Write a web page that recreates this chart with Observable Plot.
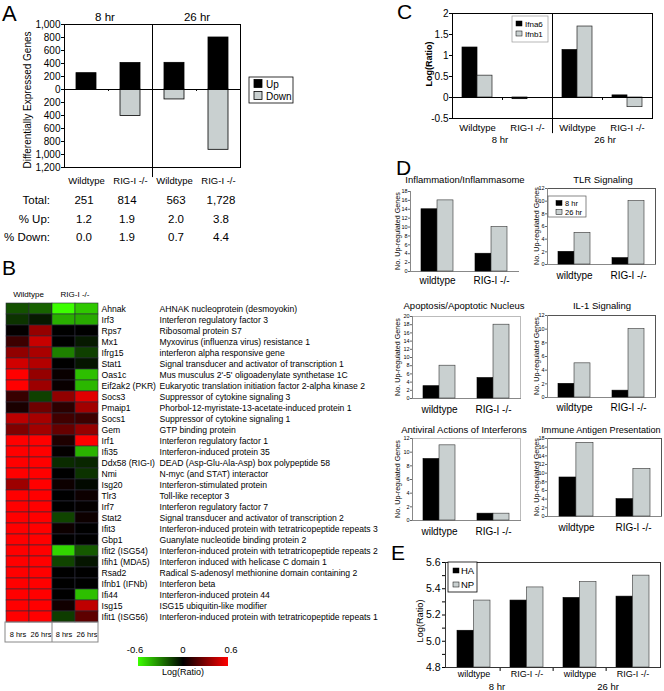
<!DOCTYPE html>
<html>
<head>
<meta charset="utf-8">
<script src="https://cdn.jsdelivr.net/npm/d3@7"></script>
<script src="https://cdn.jsdelivr.net/npm/@observablehq/plot@0.6"></script>
<style>
  html, body { margin: 0; padding: 0; background: white; }
  #fig { position: relative; width: 664px; height: 691px; overflow: hidden; background: white;
         font-family: 'Liberation Sans', Arial, Helvetica, sans-serif; }
  #fig > * { position: absolute; }
</style>
</head>
<body>
<div id="fig"></div>
<script>
// ---------------- DATA ----------------
// Panel A
const aKeys = ["wt8", "rig8", "wt26", "rig26"];
const aLabels = ["Wildtype", "RIG-I -/-", "Wildtype", "RIG-I -/-"];
const aGroups = ["8 hr", "26 hr"];
const aUp = [251, 407, 410, 800];
const aDown = [0, 407, 153, 928];
const aSeries = ["Up", "Down"];
const tableRowLabels = ["Total:", "% Up:", "% Down:"];
const tableTotal = ["251", "814", "563", "1,728"];
const tablePctUp = ["1.2", "1.9", "2.0", "3.8"];
const tablePctDown = ["0.0", "1.9", "0.7", "4.4"];

// Panel B
const hmGroups = ["Wildtype", "RIG-I -/-"];
const hmCols = ["wt8", "wt26", "rig8", "rig26"];
const hmColLabels = ["8 hrs", "26 hrs", "8 hrs", "26 hrs"];
const genes = ["Ahnak","Irf3","Rps7","Mx1","Ifrg15","Stat1","Oas1c","Eif2ak2 (PKR)","Socs3","Pmaip1","Socs1","Gem","Irf1","Ifi35","Ddx58 (RIG-I)","Nmi","Isg20","Tlr3","Irf7","Stat2","Ifit3","Gbp1","Ifit2 (ISG54)","Ifih1 (MDA5)","Rsad2","Ifnb1 (IFNb)","Ifi44","Isg15","Ifit1 (ISG56)"];
const geneDescriptions = ["AHNAK nucleoprotein (desmoyokin)","Interferon regulatory factor 3","Ribosomal protein S7","Myxovirus (influenza virus) resistance 1","interferon alpha responsive gene","Signal transducer and activator of transcription 1","Mus musculus 2'-5' oligoadenylate synthetase 1C","Eukaryotic translation initiation factor 2-alpha kinase 2","Suppressor of cytokine signaling 3","Phorbol-12-myristate-13-acetate-induced protein 1","Suppressor of cytokine signaling 1","GTP binding protein","Interferon regulatory factor 1","Interferon-induced protein 35","DEAD (Asp-Glu-Ala-Asp) box polypeptide 58","N-myc (and STAT) interactor","Interferon-stimulated protein","Toll-like receptor 3","Interferon regulatory factor 7","Signal transducer and activator of transcription 2","Interferon-induced protein with tetratricopeptide repeats 3","Guanylate nucleotide binding protein 2","Interferon-induced protein with tetratricopeptide repeats 2","Interferon induced with helicase C domain 1","Radical S-adenosyl methionine domain containing 2","Interferon beta","Interferon-induced protein 44","ISG15 ubiquitin-like modifier","Interferon-induced protein with tetratricopeptide repeats 1"];
const wt8   = [-0.19,-0.12,0.01,0.14,0.34,0.49,0.6,0.6,0.13,0.06,0.44,0.3,0.6,0.6,0.6,0.6,0.37,0.6,0.6,0.6,0.6,0.6,0.6,0.6,0.6,0.6,0.6,0.6,0.6];
const wt26  = [-0.23,-0.06,0.35,0.47,0.4,0.42,0.35,0.37,-0.15,0.26,0.39,0.38,0.6,0.6,0.6,0.6,0.6,0.6,0.6,0.6,0.6,0.6,0.6,0.6,0.6,0.6,0.6,0.6,0.6];
const rig8  = [-0.6,-0.41,0.0,0.0,-0.3,0.0,0.02,0.02,0.34,0.1,0.15,0.24,0.07,0.01,-0.1,0.0,0.03,0.0,0.0,-0.16,0.03,0.0,-0.5,-0.16,0.0,0.0,0.0,0.04,-0.14];
const rig26 = [-0.47,-0.4,0.0,-0.06,-0.15,-0.05,-0.45,-0.43,0.53,0.38,0.14,0.35,0.6,-0.42,-0.09,-0.12,-0.02,0.03,0.01,0.03,0.0,0.0,-0.21,-0.05,0.0,0.0,-0.45,0.45,0.22];
const colorDomain = [-0.6, 0, 0.6];
const colorTickLabels = ["-0.6", "0", "0.6"];

// Panel C
const cKeys = ["wt8", "rig8", "wt26", "rig26"];
const cLabels = ["Wildtype", "RIG-I -/-", "Wildtype", "RIG-I -/-"];
const cGroups = ["8 hr", "26 hr"];
const cSeries = ["Ifna6", "Ifnb1"];
const cIfna6 = [1.19, -0.04, 1.13, 0.05];
const cIfnb1 = [0.52, 0.0, 1.69, -0.23];
const cTicks = [-0.5, 0, 0.5, 1, 1.5, 2];

// Panel D
const dCats = ["wildtype", "RIG-I -/-"];
const dSeries = ["8 hr", "26 hr"];
const dTitles = ["Inflammation/Inflammasome", "TLR Signaling", "Apoptosis/Apoptotic Nucleus", "IL-1 Signaling", "Antiviral Actions of Interferons", "Immune Antigen Presentation"];
const inflam8 = [14, 4],   inflam26 = [16, 10];
const tlr8 = [2, 1],       tlr26 = [5, 10];
const apop8 = [3, 5],      apop26 = [8, 18];
const il1_8 = [2, 1],      il1_26 = [5, 10];
const antiviral8 = [9, 1], antiviral26 = [11, 1];
const immune8 = [9, 4],    immune26 = [17, 11];
const dMax = [18, 12, 20, 12, 12, 18];

// Panel E
const eKeys = ["wt8", "rig8", "wt26", "rig26"];
const eLabels = ["wildtype", "RIG-I -/-", "wildtype", "RIG-I -/-"];
const eGroups = ["8 hr", "26 hr"];
const eSeries = ["HA", "NP"];
const eHA = [5.08, 5.31, 5.33, 5.34];
const eNP = [5.31, 5.41, 5.45, 5.50];
const eTicks = [4.8, 5.0, 5.2, 5.4, 5.6];
const eMinorTicks = [4.9, 5.1, 5.3, 5.5];

// ---------------- STYLE ----------------
const FONT = "'Liberation Sans', Arial, Helvetica, sans-serif";
const GRAY = "#c9d0d0";
const GREEN = "#3cff00";
const baseStyle = {fontFamily: FONT, background: "transparent", overflow: "visible", color: "black"};
const fig = document.getElementById("fig");
function place(el, left, top) { el.style.left = left + "px"; el.style.top = top + "px"; fig.appendChild(el); }

// ---------------- PANEL A ----------------
{
  const rows = aKeys.map((k, i) => ({k, up: aUp[i], down: aDown[i]}));
  const fw = 176, step = fw / 4, pi = 0.55;
  const p = Plot.plot({
    width: 250, height: 190, marginLeft: 64, marginRight: 10, marginTop: 24, marginBottom: 23,
    style: {...baseStyle, fontSize: "10px"},
    x: {domain: aKeys, paddingInner: pi, paddingOuter: pi / 2, label: null},
    y: {domain: [-1200, 1000], label: null},
    marks: [
      Plot.barY(rows, {x: "k", y1: 0, y2: "up", fill: "black", stroke: "black", strokeWidth: 0.8}),
      Plot.barY(rows, {x: "k", y1: 0, y2: d => -d.down, fill: GRAY, stroke: "black", strokeWidth: 0.8}),
      Plot.ruleY([0], {stroke: "black"}),
      Plot.ruleX([aKeys[2]], {x: d => d, dx: -step / 2, y1: -1355, y2: 1000, stroke: "black"}),
      Plot.ruleX([aKeys[1], aKeys[3]], {x: d => d, dx: -step / 2, y1: 0, y2: -30, stroke: "black"}),
      Plot.frame({stroke: "black"}),
      Plot.axisY({ticks: d3.range(-1200, 1001, 200), tickFormat: d => Math.abs(d), tickSize: 3, tickPadding: 1, fontSize: 10, label: null}),
      Plot.axisX({tickSize: 0, tickPadding: 10, fontSize: 9.5, tickFormat: d => aLabels[aKeys.indexOf(d)], label: null})
    ]
  });
  place(p, 0, 0);
}

// ---------------- PANEL B ----------------
{
  const cells = [];
  const vals = {wt8, wt26, rig8, rig26};
  genes.forEach((g, i) => hmCols.forEach(c => cells.push({gene: g, col: c, v: vals[c][i]})));
  const p = Plot.plot({
    width: 360, height: 360, marginLeft: 5, marginRight: 262, marginTop: 13, marginBottom: 28,
    style: {...baseStyle, fontSize: "8.6px"},
    x: {domain: hmCols, padding: 0, label: null},
    y: {domain: genes, padding: 0, label: null, axis: null},
    color: {type: "linear", domain: colorDomain, range: [GREEN, "#000000", "#ff0000"], interpolate: "rgb", clamp: true},
    marks: [
      Plot.cell(cells, {x: "col", y: "gene", fill: "v", stroke: "#2c2c3c", strokeWidth: 0.6, inset: 0}),
      Plot.axisX({tickSize: 0, tickPadding: 9, fontSize: 7.5, tickFormat: d => hmColLabels[hmCols.indexOf(d)], label: null}),
      Plot.text(genes, {y: d => d, text: d => d, frameAnchor: "right", textAnchor: "start", dx: 3, fontSize: 8.6}),
      Plot.text(genes, {y: d => d, text: (d, i) => geneDescriptions[i], frameAnchor: "right", textAnchor: "start", dx: 61, fontSize: 8.6})
    ]
  });
  place(p, 0, 290);
}

// ---------------- PANEL C ----------------
{
  const rows = cKeys.map((k, i) => ({k, a: cIfna6[i], b: cIfnb1[i]}));
  const fw = 200, step = fw / 4, pi = 0.4, bw = step * (1 - pi);
  const p = Plot.plot({
    width: 284, height: 150, marginLeft: 72, marginRight: 12, marginTop: 13, marginBottom: 32,
    style: {...baseStyle, fontSize: "10px"},
    x: {domain: cKeys, paddingInner: pi, paddingOuter: pi / 2, label: null},
    y: {domain: [-0.5, 2], label: null},
    marks: [
      Plot.barY(rows, {x: "k", y1: 0, y2: "a", fill: "black", stroke: "black", strokeWidth: 0.7, insetRight: bw / 2}),
      Plot.barY(rows, {x: "k", y1: 0, y2: "b", fill: GRAY, stroke: "#222", strokeWidth: 0.7, insetLeft: bw / 2}),
      Plot.ruleY([0], {stroke: "black"}),
      Plot.ruleX([cKeys[2]], {x: d => d, dx: -step / 2, y1: -0.86, y2: 2, stroke: "black"}),
      Plot.ruleX([cKeys[1], cKeys[3]], {x: d => d, dx: -step / 2, y1: 0, y2: -0.07, stroke: "black"}),
      Plot.frame({stroke: "black"}),
      Plot.axisY({ticks: cTicks, tickFormat: d => String(d), tickSize: 3, tickPadding: 1, fontSize: 10, label: null}),
      Plot.axisX({tickSize: 0, tickPadding: 6, fontSize: 9.5, tickFormat: d => cLabels[cKeys.indexOf(d)], label: null})
    ]
  });
  place(p, 380, 0);
}

// ---------------- PANEL D ----------------
const dFrames = [
  {x0: 410, x1: 518, y0: 191, y1: 271, pad: 5, frame: null},
  {x0: 547, x1: 655, y0: 188, y1: 264, pad: 7, frame: "#555"},
  {x0: 412, x1: 520, y0: 316, y1: 398, pad: 7, frame: "#bbb"},
  {x0: 547, x1: 655, y0: 315, y1: 397, pad: 6, frame: "#555"},
  {x0: 412, x1: 520, y0: 438, y1: 520, pad: 7, frame: "#bbb"},
  {x0: 547, x1: 661, y0: 438, y1: 516, pad: 7, frame: "#555"}
];
const dData = [[inflam8, inflam26], [tlr8, tlr26], [apop8, apop26], [il1_8, il1_26], [antiviral8, antiviral26], [immune8, immune26]];
dData.forEach(([v8, v26], j) => {
  const f = dFrames[j];
  const step = (f.x1 - f.x0) / 2, pi = 0.407, bw = step * (1 - pi);
  const rows = dCats.map((c, i) => ({c, a: v8[i], b: v26[i]}));
  const p = Plot.plot({
    width: f.x1 - f.x0 + 18, height: f.y1 - f.y0 + 22, marginLeft: 14, marginRight: 4, marginTop: 4, marginBottom: 18,
    style: {...baseStyle, fontSize: "10px"},
    x: {domain: dCats, paddingInner: pi, paddingOuter: pi / 2, label: null},
    y: {domain: [0, dMax[j]], label: null},
    marks: [
      f.frame ? Plot.frame({stroke: f.frame}) : null,
      Plot.frame({anchor: "left", stroke: "#888"}),
      Plot.frame({anchor: "bottom", stroke: "#888"}),
      Plot.barY(rows, {x: "c", y1: 0, y2: "a", fill: "black", stroke: "black", strokeWidth: 0.6, insetRight: bw / 2}),
      Plot.barY(rows, {x: "c", y1: 0, y2: "b", fill: GRAY, stroke: "#333", strokeWidth: 0.6, insetLeft: bw / 2}),
      Plot.axisY({ticks: d3.range(0, dMax[j] + 1, 2), tickSize: 2, tickPadding: 1, fontSize: 5.5, stroke: "#666", label: null}),
      Plot.axisX({tickSize: 0, tickPadding: f.pad, fontSize: 10, label: null})
    ]
  });
  place(p, f.x0 - 14, f.y0 - 4);
});

// ---------------- PANEL E ----------------
{
  const rows = eKeys.map((k, i) => ({k, a: eHA[i], b: eNP[i]}));
  const fw = 215, step = fw / 4, pi = 0.386, bw = step * (1 - pi);
  const base = eTicks[0];
  const p = Plot.plot({
    width: 284, height: 141, marginLeft: 65, marginRight: 4, marginTop: 12, marginBottom: 24,
    style: {...baseStyle, fontSize: "10px"},
    x: {domain: eKeys, paddingInner: pi, paddingOuter: pi / 2, label: null},
    y: {domain: [4.8, 5.6], label: null},
    marks: [
      Plot.barY(rows, {x: "k", y1: base, y2: "a", fill: "black", stroke: "black", strokeWidth: 0.6, insetRight: bw / 2}),
      Plot.barY(rows, {x: "k", y1: base, y2: "b", fill: GRAY, stroke: "#333", strokeWidth: 0.6, insetLeft: bw / 2}),
      Plot.ruleX([eKeys[1], eKeys[2], eKeys[3]], {x: d => d, dx: -step / 2, y1: base, y2: base - 0.03, stroke: "black"}),
      Plot.frame({stroke: "#333"}),
      Plot.axisY({ticks: eTicks, tickFormat: d3.format(".1f"), tickSize: 3, tickPadding: 2, fontSize: 10.5, label: null}),
      Plot.axisY({ticks: eMinorTicks, tickFormat: () => "", tickSize: 3, label: null}),
      Plot.axisX({tickSize: 0, tickPadding: 3, fontSize: 9, tickFormat: d => eLabels[eKeys.indexOf(d)], label: null})
    ]
  });
  place(p, 380, 550);
}

// ---------------- OVERLAY (titles, legends, table, labels) ----------------
const ov = d3.create("svg").attr("width", 664).attr("height", 691)
  .style("left", "0px").style("top", "0px").style("pointer-events", "none")
  .attr("font-family", FONT);
function T(x, y, s, o = {}) {
  const t = ov.append("text").attr("font-size", o.size || 10)
    .attr("text-anchor", o.anchor || "middle").attr("font-weight", o.weight || "normal")
    .attr("fill", "black").text(s);
  if (o.rot) t.attr("transform", `translate(${x},${y}) rotate(-90)`);
  else t.attr("x", x).attr("y", y);
  return t;
}
function R(x, y, w, h, fill, stroke, sw = 0.8) {
  ov.append("rect").attr("x", x).attr("y", y).attr("width", w).attr("height", h)
    .attr("fill", fill).attr("stroke", stroke || "none").attr("stroke-width", sw);
}

// Panel letters
T(2, 21, "A", {size: 22, anchor: "start"});
T(2, 275, "B", {size: 21, anchor: "start"});
T(397, 19, "C", {size: 21, anchor: "start"});
T(396, 175, "D", {size: 21, anchor: "start"});
T(391, 560, "E", {size: 21, anchor: "start"});

// A
T(105, 21, aGroups[0], {size: 11.5});
T(197, 21, aGroups[1], {size: 11.5});
T(31, 100, "Differentially Expressed Genes", {size: 10, rot: true});
R(249, 77, 44, 26, "white", "black", 0.8);
R(254, 79.5, 8, 8, "black", "black");
T(266, 87.5, aSeries[0], {size: 10, anchor: "start"});
R(254, 91.5, 8, 8, GRAY, "black");
T(266, 99.5, aSeries[1], {size: 10, anchor: "start"});
// table
const tableX = [84, 127, 176, 221];
const tableY = [204, 223, 241];
[tableTotal, tablePctUp, tablePctDown].forEach((row, r) => {
  T(50, tableY[r], tableRowLabels[r], {size: 11.5, anchor: "end"});
  row.forEach((v, i) => T(tableX[i], tableY[r], v, {size: 11.5}));
});

// B
T(28.5, 297, hmGroups[0], {size: 8});
T(75, 297, hmGroups[1], {size: 8});
ov.append("rect").attr("x", 5).attr("y", 622).attr("width", 93).attr("height", 20)
  .attr("fill", "none").attr("stroke", "#888").attr("stroke-width", 1);
ov.append("line").attr("x1", 52).attr("x2", 52).attr("y1", 622).attr("y2", 642)
  .attr("stroke", "#888").attr("stroke-width", 1);
const grad = ov.append("defs").append("linearGradient").attr("id", "lr");
[[0, GREEN], [0.5, "#000"], [1, "#ff0000"]].forEach(([o, c]) =>
  grad.append("stop").attr("offset", o).attr("stop-color", c));
R(138, 657, 90, 9, "url(#lr)", null);
T(135, 653, colorTickLabels[0], {size: 9.5});
T(183, 653, colorTickLabels[1], {size: 9.5});
T(231, 653, colorTickLabels[2], {size: 9.5});
T(183, 674.5, "Log(Ratio)", {size: 9});

// C
T(432, 64, "Log(Ratio)", {size: 9, weight: "bold", rot: true});
R(512, 16, 36, 26, "white", "#999", 0.7);
R(516, 21, 6, 5, "black", "black", 0.5);
T(525, 26.5, cSeries[0], {size: 8, anchor: "start"});
R(516, 31, 6, 5, GRAY, "black", 0.5);
T(525, 36.5, cSeries[1], {size: 8, anchor: "start"});
T(500, 143, cGroups[0], {size: 9.5});
T(605, 143, cGroups[1], {size: 9.5});

// D
const dTitlePos = [[465, 183], [603, 183], [464, 309], [602, 309], [464, 433], [601, 433]];
const dTitleSize = [9.5, 9.5, 9.5, 9.5, 9.5, 9.1];
dTitles.forEach((t, j) => T(dTitlePos[j][0], dTitlePos[j][1], t, {size: dTitleSize[j]}));
dFrames.forEach((f, j) => T(j % 2 === 0 ? 400 : 539, (f.y0 + f.y1) / 2, "No. Up-regulated Genes", {size: 7.2, rot: true}));
R(548, 196, 38, 21, "white", "#555", 0.7);
R(556, 200.5, 6, 5, "black", "black", 0.5);
T(565, 206, dSeries[0], {size: 7.5, anchor: "start"});
R(556, 209.5, 6, 5, GRAY, "black", 0.5);
T(565, 215, dSeries[1], {size: 7.5, anchor: "start"});

// E
T(423, 621, "Log(Ratio)", {size: 9.2, rot: true});
R(448, 562, 29, 30, "white", "black", 0.8);
R(453, 568, 6, 5, "black", "black", 0.5);
T(461, 574, eSeries[0], {size: 9.5, anchor: "start"});
R(453, 582, 6, 5, GRAY, "black", 0.5);
T(461, 588, eSeries[1], {size: 9.5, anchor: "start"});
T(497, 690, eGroups[0], {size: 9.5});
T(608, 690, eGroups[1], {size: 9.5});

place(ov.node(), 0, 0);
</script>
</body>
</html>
